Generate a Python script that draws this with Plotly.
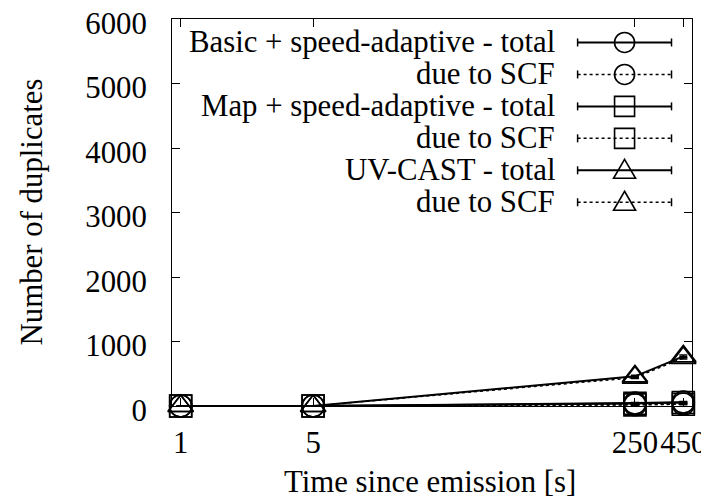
import plotly.graph_objects as go

times = [1, 5, 250, 450]
tick_labels = ["1", "5", "250", "450"]
y_ticks = [0, 1000, 2000, 3000, 4000, 5000, 6000]

basic_total = [0, 0, 45, 60]
basic_total_err = [2, 2, 8, 10]
basic_scf = [0, 0, 20, 30]
basic_scf_err = [1, 1, 5, 6]
map_total = [0, 0, 40, 55]
map_total_err = [2, 2, 8, 10]
map_scf = [0, 0, 18, 28]
map_scf_err = [1, 1, 5, 6]
uv_total = [0, 0, 460, 770]
uv_total_err = [2, 2, 15, 20]
uv_scf = [0, 0, 440, 745]
uv_scf_err = [1, 1, 12, 18]

series_names = ["Basic + speed-adaptive - total", "due to SCF",
                "Map + speed-adaptive - total", "due to SCF",
                "UV-CAST - total", "due to SCF"]
x_title = "Time since emission [s]"
y_title = "Number of duplicates"

FONT = "Liberation Serif"
FS = 30.8
series = [
    (basic_total, basic_total_err, "circle-open", "solid"),
    (basic_scf, basic_scf_err, "circle-open", "dot"),
    (map_total, map_total_err, "square-open", "solid"),
    (map_scf, map_scf_err, "square-open", "dot"),
    (uv_total, uv_total_err, "triangle-up-open", "solid"),
    (uv_scf, uv_scf_err, "triangle-up-open", "dot"),
]

fig = go.Figure()
for (vals, errs, sym, dash), name in zip(series, series_names):
    fig.add_trace(go.Scatter(
        x=times, y=vals, name=name, mode="lines+markers",
        line=dict(color="black", width=2 if dash == "solid" else 1.5, dash=dash),
        marker=dict(symbol=sym, size=22, color="black", line=dict(width=1.6, color="black")),
        error_y=dict(type="data", array=errs, visible=True, color="black", thickness=1.5, width=4),
        showlegend=False, cliponaxis=False,
    ))

# page body has an 8px margin; work in reference-page pixels and convert
OFF = 8
W, H = 709 - OFF, 499 - OFF
PL, PR, PT, PB = 172, 692.5, 18.5, 406      # plot box in page pixels
L, R, T, B = PL - OFF, W - (PR - OFF), PT - OFF, H - (PB - OFF)
pw, ph = PR - PL, PB - PT


def px(xpage):
    return (xpage - PL) / pw


def py(ypage):
    return 1 - (ypage - PT) / ph


text_right = 557
s0, s1 = 578, 672
row_y0, row_dy = 42, 32
annotations = []
shapes = []
for i, ((vals, errs, sym, dash), name) in enumerate(zip(series, series_names)):
    yp = py(row_y0 + i * row_dy)
    annotations.append(dict(x=px(text_right), y=yp, xref="paper", yref="paper", text=name,
                            showarrow=False, xanchor="right", yanchor="middle",
                            font=dict(family=FONT, size=FS, color="black")))
    xa, xb = px(s0), px(s1)
    lw = 2 if dash == "solid" else 1.5
    shapes.append(dict(type="line", xref="paper", yref="paper", x0=xa, x1=xb, y0=yp, y1=yp,
                       line=dict(color="black", width=lw, dash=dash)))
    for xe in (xa, xb):
        shapes.append(dict(type="line", xref="paper", yref="paper", x0=xe, x1=xe,
                           ysizemode="pixel", yanchor=yp, y0=-4, y1=4,
                           line=dict(color="black", width=1.5)))
    xm = (xa + xb) / 2
    if sym == "circle-open":
        shapes.append(dict(type="circle", xref="paper", yref="paper",
                           xsizemode="pixel", ysizemode="pixel", xanchor=xm, yanchor=yp,
                           x0=-10, x1=10, y0=-10, y1=10,
                           line=dict(color="black", width=1.6)))
    elif sym == "square-open":
        shapes.append(dict(type="path", xref="paper", yref="paper",
                           xsizemode="pixel", ysizemode="pixel", xanchor=xm, yanchor=yp,
                           path="M -10 -10 L 10 -10 L 10 10 L -10 10 Z",
                           line=dict(color="black", width=1.6)))
    else:
        shapes.append(dict(type="path", xref="paper", yref="paper",
                           xsizemode="pixel", ysizemode="pixel", xanchor=xm, yanchor=yp,
                           path="M 0 11 L 11 -8 L -11 -8 Z",
                           line=dict(color="black", width=1.6)))

annotations.append(dict(x=px(430), y=py(482), xref="paper", yref="paper", text=x_title,
                        showarrow=False, xanchor="center", yanchor="middle",
                        font=dict(family=FONT, size=FS, color="black")))
annotations.append(dict(x=px(32), y=py(212), xref="paper", yref="paper", text=y_title,
                        showarrow=False, xanchor="center", yanchor="middle", textangle=-90,
                        font=dict(family=FONT, size=FS, color="black")))

fig.update_layout(
    width=W, height=H,
    margin=dict(l=L, r=R, t=T, b=B),
    paper_bgcolor="white", plot_bgcolor="white",
    font=dict(family=FONT, size=FS, color="black"),
    showlegend=False,
    annotations=annotations,
    shapes=shapes,
    xaxis=dict(
        type="log", range=[-0.0458, 2.699], automargin=False,
        tickvals=times, ticktext=tick_labels,
        ticks="inside", ticklen=8, tickcolor="black", tickwidth=1,
        showline=True, linecolor="black", linewidth=1, mirror="ticks",
        showgrid=False, zeroline=False, ticklabelstandoff=9,
        ticklabeloverflow="allow",
        tickfont=dict(family=FONT, size=FS),
    ),
    yaxis=dict(
        range=[0, 6000], tickvals=y_ticks, automargin=False,
        ticks="inside", ticklen=8, tickcolor="black", tickwidth=1,
        showline=True, linecolor="black", linewidth=1, mirror="ticks",
        showgrid=False, zeroline=False, ticklabelstandoff=18,
        ticklabelshift=4, ticklabeloverflow="allow",
        tickfont=dict(family=FONT, size=FS),
    ),
)

fig.write_html("out.html")
